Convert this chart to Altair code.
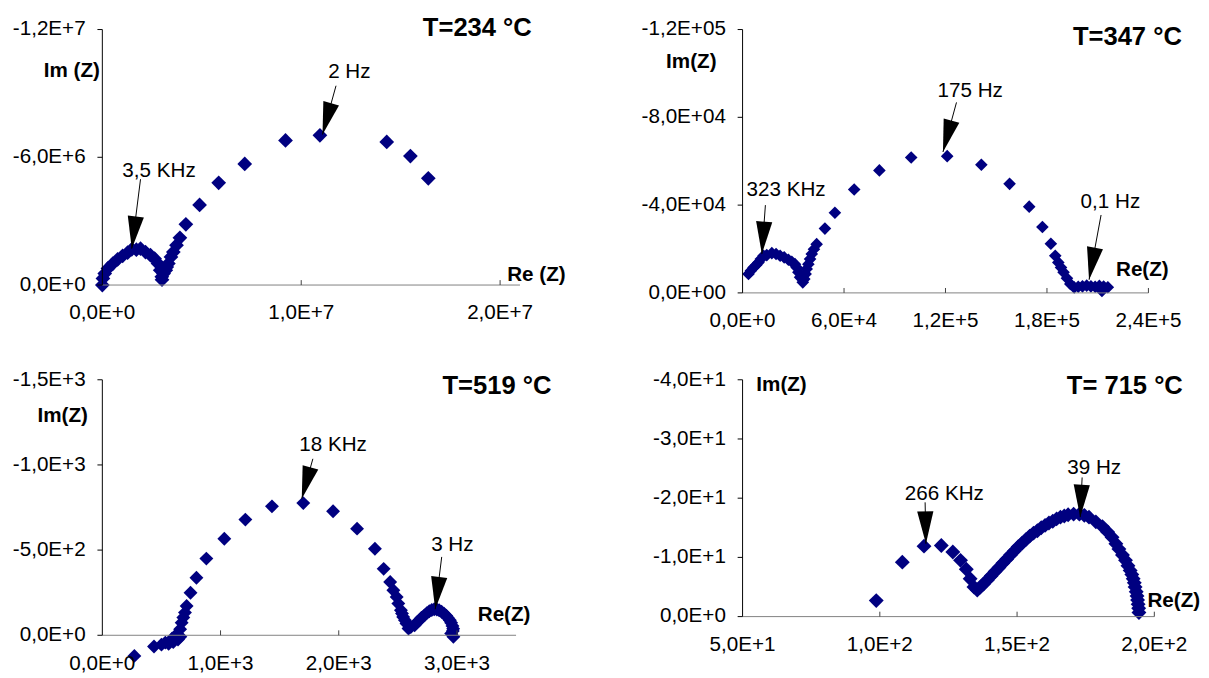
import math
import altair as alt
import pandas as pd

FONT = "Liberation Sans"
NAVY = "#000080"

# ---------------- Panel 1 : T=234 °C ----------------
p1_title = "T=234 °C"
p1_re = [0.0, 0.03e6, 0.12e6, 0.28e6, 0.53e6, 0.77e6, 1.02e6, 1.27e6, 1.48e6, 1.71e6,
         1.92e6, 2.17e6, 2.42e6, 2.63e6, 2.80e6, 2.91e6, 2.99e6, 3.00e6, 3.08e6, 3.19e6,
         3.24e6, 3.32e6, 3.45e6, 3.57e6, 3.73e6, 3.90e6, 4.20e6, 4.89e6, 5.85e6, 7.16e6,
         9.21e6, 10.94e6, 14.30e6, 15.49e6, 16.39e6]
p1_im = [0.0, -0.31e6, -0.54e6, -0.78e6, -1.01e6, -1.21e6, -1.37e6, -1.52e6, -1.68e6, -1.66e6,
         -1.71e6, -1.55e6, -1.40e6, -1.24e6, -1.01e6, -0.70e6, -0.39e6, -0.25e6, -0.54e6, -0.70e6,
         -0.85e6, -1.01e6, -1.32e6, -1.55e6, -1.87e6, -2.22e6, -2.85e6, -3.76e6, -4.80e6, -5.69e6,
         -6.79e6, -7.03e6, -6.72e6, -6.06e6, -5.01e6]
p1_xticks = [0.0, 1.0e7, 2.0e7]
p1_xlabels = ["0,0E+0", "1,0E+7", "2,0E+7"]
p1_yticks = [-1.2e7, -6.0e6, 0.0]
p1_ylabels = ["-1,2E+7", "-6,0E+6", "0,0E+0"]
p1_ann_text = ["3,5 KHz", "2 Hz"]
p1_ann_lx = [2.85e6, 12.42e6]
p1_ann_ly = [-5.36e6, -9.98e6]
p1_ann_sx = [1.92e6, 11.75e6]
p1_ann_sy = [-4.97e6, -9.36e6]
p1_ann_px = [1.48e6, 11.07e6]
p1_ann_py = [-1.71e6, -7.07e6]

# ---------------- Panel 2 : T=347 °C ----------------
p2_title = "T=347 °C"
p2_re = [3.5e3, 4.9e3, 6.5e3, 8.1e3, 9.4e3, 10.8e3, 12.4e3, 14.3e3, 17.3e3, 19.8e3,
         22.2e3, 24.6e3, 27.1e3, 29.1e3, 31.0e3, 32.0e3, 33.0e3, 34.0e3, 35.6e3, 36.5e3,
         37.3e3, 37.9e3, 38.9e3, 39.9e3, 40.9e3, 42.2e3, 43.8e3, 48.7e3, 54.6e3, 66.0e3,
         80.9e3, 99.7e3, 121.0e3, 141.2e3, 157.9e3, 169.5e3, 177.3e3, 182.3e3, 184.9e3, 186.7e3,
         188.3e3, 189.8e3, 191.8e3, 193.8e3, 196.1e3, 198.5e3, 201.0e3, 203.5e3, 206.0e3, 208.5e3,
         211.0e3, 212.5e3, 213.5e3, 216.0e3]
p2_im = [-8.6e3, -10.1e3, -11.6e3, -12.7e3, -13.9e3, -15.4e3, -16.9e3, -17.2e3, -18.1e3, -17.7e3,
         -16.9e3, -16.2e3, -15.1e3, -14.2e3, -13.1e3, -11.6e3, -9.4e3, -7.1e3, -4.8e3, -6.3e3,
         -8.6e3, -10.9e3, -13.1e3, -15.4e3, -17.7e3, -19.9e3, -22.2e3, -29.3e3, -36.5e3, -47.1e3,
         -55.8e3, -61.7e3, -62.3e3, -58.4e3, -49.7e3, -39.3e3, -30.0e3, -22.4e3, -16.9e3, -13.9e3,
         -11.6e3, -9.4e3, -6.7e3, -4.1e3, -2.5e3, -2.8e3, -3.0e3, -3.3e3, -3.0e3, -2.8e3,
         -3.2e3, -0.9e3, -2.9e3, -2.6e3]
p2_xticks = [0.0, 6.0e4, 1.2e5, 1.8e5, 2.4e5]
p2_xlabels = ["0,0E+0", "6,0E+4", "1,2E+5", "1,8E+5", "2,4E+5"]
p2_yticks = [-1.2e5, -8.0e4, -4.0e4, 0.0]
p2_ylabels = ["-1,2E+05", "-8,0E+04", "-4,0E+04", "0,0E+00"]
p2_ann_text = ["323 KHz", "175 Hz", "0,1 Hz"]
p2_ann_lx = [25.7e3, 134.6e3, 217.5e3]
p2_ann_ly = [-46.8e3, -92.1e3, -41.5e3]
p2_ann_sx = [13.5e3, 126.5e3, 212.0e3]
p2_ann_sy = [-40.0e3, -86.8e3, -35.5e3]
p2_ann_px = [11.4e3, 118.5e3, 204.9e3]
p2_ann_py = [-17.7e3, -64.2e3, -6.0e3]

# ---------------- Panel 3 : T=519 °C ----------------
p3_title = "T=519 °C"
p3_re = [271, 437, 500, 533, 561, 589, 600, 630, 640, 658,
         660, 671, 685, 699, 713, 746, 796, 880, 1032, 1210,
         1435, 1700, 1952, 2155, 2306, 2380, 2435, 2462, 2490, 2504,
         2526, 2535, 2545, 2560, 2573, 2590, 2610, 2642, 2660, 2683,
         2700, 2725, 2745, 2766, 2787, 2808, 2830, 2849, 2870, 2891,
         2910, 2924, 2940, 2951, 2962, 2968, 2965, 2951, 2970]
p3_im = [121, 66, 55, 43, 50, 20, 40, -6, 25, -35,
         8, -74, -104, -133, -172, -250, -338, -450, -567, -679,
         -757, -776, -728, -626, -508, -390, -313, -264, -225, -186,
         -147, -128, -108, -88, -69, -40, -48, -59, -75, -88,
         -103, -117, -130, -141, -148, -153, -151, -147, -138, -127,
         -115, -102, -88, -73, -55, -39, -25, -10, 9]
p3_xticks = [0.0, 1.0e3, 2.0e3, 3.0e3]
p3_xlabels = ["0,0E+0", "1,0E+3", "2,0E+3", "3,0E+3"]
p3_yticks = [-1.5e3, -1.0e3, -5.0e2, 0.0]
p3_ylabels = ["-1,5E+3", "-1,0E+3", "-5,0E+2", "0,0E+0"]
p3_ann_text = ["18 KHz", "3 Hz"]
p3_ann_lx = [1952, 2961]
p3_ann_ly = [-1119, -528]
p3_ann_sx = [1781, 2871]
p3_ann_sy = [-1036, -460]
p3_ann_px = [1687, 2816]
p3_ann_py = [-802, -153]

# ---------------- Panel 4 : T= 715 °C ----------------
p4_title = "T= 715 °C"
p4_re = [98.7, 108.2, 116.1, 122.4, 126.6, 129.4, 131.5, 132.9, 134.3, 135.5,
         136.6, 137.8, 139.2, 140.6, 142.0, 143.4, 144.8, 146.2, 147.6, 149.0,
         150.4, 151.8, 153.2, 154.6, 156.0, 157.4, 158.8, 160.2, 161.6, 163.0,
         164.4, 165.8, 167.2, 168.6, 170.6, 172.7, 174.5, 176.2, 178.7, 181.1,
         183.0, 184.6, 186.0, 187.1, 188.4, 189.5, 190.4, 191.2, 191.8, 192.3,
         192.7, 193.0, 193.4, 193.7, 193.9, 194.1, 194.3, 194.4]
p4_im = [-2.7, -9.2, -11.9, -12.0, -10.9, -9.5, -8.0, -6.4, -5.0, -4.5,
         -5.0, -5.5, -6.2, -6.9, -7.6, -8.3, -9.0, -9.7, -10.4, -11.1,
         -11.8, -12.4, -13.0, -13.6, -14.1, -14.5, -15.0, -15.4, -15.8, -16.1,
         -16.5, -16.8, -17.0, -17.2, -17.3, -17.3, -17.1, -16.8, -16.0, -15.2,
         -14.3, -13.4, -12.3, -11.4, -10.4, -9.5, -8.6, -7.8, -7.1, -6.4,
         -5.7, -5.0, -4.2, -3.5, -2.8, -2.1, -1.4, -0.7]
p4_xticks = [50.0, 100.0, 150.0, 200.0]
p4_xlabels = ["5,0E+1", "1,0E+2", "1,5E+2", "2,0E+2"]
p4_yticks = [-40.0, -30.0, -20.0, -10.0, 0.0]
p4_ylabels = ["-4,0E+1", "-3,0E+1", "-2,0E+1", "-1,0E+1", "0,0E+0"]
p4_ann_text = ["266 KHz", "39 Hz"]
p4_ann_lx = [123.5, 178.1]
p4_ann_ly = [-20.7, -25.0]
p4_ann_sx = [116.5, 173.7]
p4_ann_sy = [-19.3, -23.5]
p4_ann_px = [116.8, 173.0]
p4_ann_py = [-12.3, -16.8]

ARROW_PATH = "M 0 0 L -0.25 -1 L 0.25 -1 Z"
LABEL_SIZE = 21


def one_row():
    return pd.DataFrame({"k": [0]})


def panel(c):
    W, H = c["W"], c["H"]
    LW = c.get("LW", W)
    xs = alt.Scale(domain=c["xdom"], nice=False, zero=False, range=[0, W])
    ys = alt.Scale(domain=c["ydom"], nice=False, zero=False, reverse=True)
    kx = W / (c["xdom"][1] - c["xdom"][0])
    ky = H / (c["ydom"][1] - c["ydom"][0])

    pts = pd.DataFrame({"re": c["re"], "im": c["im"]})
    angs = []
    for sx, sy, px, py in zip(c["sx"], c["sy"], c["px"], c["py"]):
        dx = (sx - px) * kx
        dy = (sy - py) * ky
        angs.append(math.degrees(math.atan2(dx, -dy)) % 360)
    ann = pd.DataFrame({"t": c["ann"], "lx": c["lx"], "ly": c["ly"], "sx": c["sx"],
                        "sy": c["sy"], "px": c["px"], "py": c["py"], "ang": angs})
    xt = pd.DataFrame({"v": c["xticks"], "lab": c["xlabels"]})
    yt = pd.DataFrame({"v": c["yticks"], "lab": c["ylabels"]})

    X = lambda f: alt.X(f, scale=xs, axis=None)
    Y = lambda f: alt.Y(f, scale=ys, axis=None)

    # axes drawn with marks
    ydomain = alt.Chart(one_row()).mark_rule(color="black", strokeWidth=1).encode(
        x=alt.value(0), y=alt.value(0), y2=alt.value(H))
    xdomain = alt.Chart(one_row()).mark_rule(color="#808080", strokeWidth=1).encode(
        x=alt.value(0), x2=alt.value(W), y=alt.value(H))
    xticks = alt.Chart(xt.iloc[1:]).mark_rule(color="#404040", strokeWidth=1).encode(
        x=X("v:Q"), y=alt.value(H), y2=alt.value(H - 5))
    yticks = alt.Chart(yt).mark_rule(color="black", strokeWidth=1).encode(
        y=Y("v:Q"), x=alt.value(-5), x2=alt.value(0))
    xlabels = alt.Chart(xt).mark_text(fontSize=LABEL_SIZE, align="center", baseline="middle",
                                      color="black").encode(
        x=X("v:Q"), y=alt.value(H + 29), text="lab:N")
    ylabels = alt.Chart(yt).mark_text(fontSize=LABEL_SIZE, align="right", baseline="middle",
                                      color="black").encode(
        y=Y("v:Q"), x=alt.value(-17), text="lab:N")
    xtitle = alt.Chart(pd.DataFrame({"t": [c["xt"]]})).mark_text(
        fontSize=21, fontWeight="bold", align="left", baseline="middle", color="black").encode(
        text="t:N", x=alt.value(c["xtx"]), y=alt.value(H + c["xty"]))
    ytitle = alt.Chart(pd.DataFrame({"t": [c["yt"]]})).mark_text(
        fontSize=21, fontWeight="bold", align=c["yta"], baseline="middle", color="black").encode(
        text="t:N", x=alt.value(c["ytx"]), y=alt.value(c["yty"]))

    points = alt.Chart(pts).mark_point(shape="diamond", filled=True, size=c["size"],
                                       color=NAVY, opacity=1).encode(
        x=X("re:Q"), y=Y("im:Q"))
    stems = alt.Chart(ann).mark_rule(color="black", strokeWidth=1).encode(
        x=X("sx:Q"), y=Y("sy:Q"), x2="px:Q", y2="py:Q")
    heads = alt.Chart(ann).mark_point(shape=ARROW_PATH, filled=True, size=4356,
                                      color="black", opacity=1).encode(
        x=X("px:Q"), y=Y("py:Q"), angle=alt.Angle("ang:Q", scale=None))
    texts = alt.Chart(ann).mark_text(fontSize=21, align="center", baseline="middle",
                                     color="black").encode(
        x=X("lx:Q"), y=Y("ly:Q"), text="t:N")
    title = alt.Chart(pd.DataFrame({"t": [c["title"]]})).mark_text(
        align="right", baseline="middle", fontSize=26, fontWeight="bold",
        color="black").encode(text="t:N", x=alt.value(c["tx"]), y=alt.value(c["ty"]))

    return alt.layer(points, xdomain, ydomain, xticks, yticks, xlabels, ylabels,
                     xtitle, ytitle, stems, heads, texts, title).properties(width=LW, height=H)


p1 = panel(dict(W=425, H=260, xdom=[0.0, 2.1e7], ydom=[-1.2e7, 0.0], re=p1_re, im=p1_im,
                size=225, xticks=p1_xticks, xlabels=p1_xlabels, yticks=p1_yticks,
                ylabels=p1_ylabels, ann=p1_ann_text, lx=p1_ann_lx, ly=p1_ann_ly,
                sx=p1_ann_sx, sy=p1_ann_sy, px=p1_ann_px, py=p1_ann_py,
                xt="Re (Z)", xtx=412, xty=-10.6, yt="Im (Z)", ytx=-2.5, yty=42, yta="right",
                title=p1_title, tx=437, ty=-1.6))
p2 = panel(dict(W=413, H=268, xdom=[0.0, 2.4e5], ydom=[-1.2e5, 0.0], re=p2_re, im=p2_im,
                size=165, xticks=p2_xticks, xlabels=p2_xlabels, yticks=p2_yticks,
                ylabels=p2_ylabels, ann=p2_ann_text, lx=p2_ann_lx, ly=p2_ann_ly,
                sx=p2_ann_sx, sy=p2_ann_sy, px=p2_ann_px, py=p2_ann_py,
                xt="Re(Z)", xtx=380, xty=-23.4, yt="Im(Z)", ytx=-26.5, yty=33, yta="right",
                title=p2_title, tx=447, ty=8))
p3 = panel(dict(W=421, LW=411, H=260, xdom=[0.0, 3.5e3], ydom=[-1.5e3, 0.0], re=p3_re, im=p3_im,
                size=200, xticks=p3_xticks, xlabels=p3_xlabels, yticks=p3_yticks,
                ylabels=p3_ylabels, ann=p3_ann_text, lx=p3_ann_lx, ly=p3_ann_ly,
                sx=p3_ann_sx, sy=p3_ann_sy, px=p3_ann_px, py=p3_ann_py,
                xt="Re(Z)", xtx=382, xty=-20.7, yt="Im(Z)", ytx=-14.7, yty=37.3, yta="right",
                title=p3_title, tx=457, ty=6))
p4 = panel(dict(W=419, H=241, xdom=[50.0, 200.0], ydom=[-40.0, 0.0], re=p4_re, im=p4_im,
                size=230, xticks=p4_xticks, xlabels=p4_xlabels, yticks=p4_yticks,
                ylabels=p4_ylabels, ann=p4_ann_text, lx=p4_ann_lx, ly=p4_ann_ly,
                sx=p4_ann_sx, sy=p4_ann_sy, px=p4_ann_px, py=p4_ann_py,
                xt="Re(Z)", xtx=412, xty=-16, yt="Im(Z)", ytx=14, yty=5.3, yta="left",
                title=p4_title, tx=448, ty=6))

chart = alt.concat(
    p1, p2, p3, p4, columns=2,
    spacing={"row": 88.4, "column": 226.5},
    align={"row": "all", "column": "none"},
    bounds="flush",
).properties(
    padding={"left": 4, "top": 1, "right": 0, "bottom": 0}
).configure(font=FONT).configure_view(stroke=None)

chart.save("out.html", embed_options={"renderer": "svg", "actions": False})
